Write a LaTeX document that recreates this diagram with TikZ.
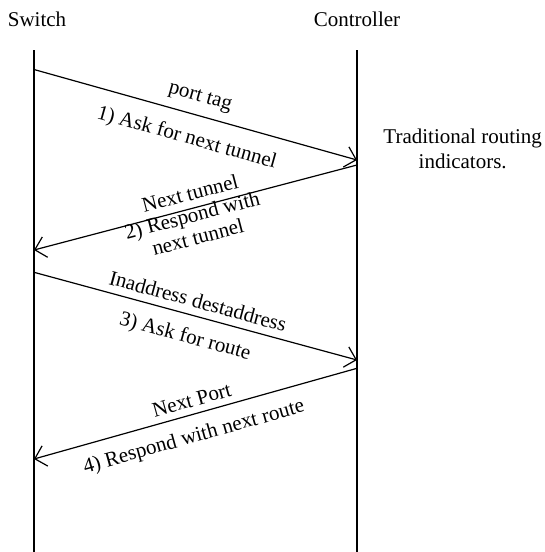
\documentclass[tikz,border=0pt]{standalone}
\usepackage{fontspec}
\setmainfont{Liberation Serif}
\usetikzlibrary{arrows.meta}
\begin{document}
\begin{tikzpicture}[x=1pt,y=-1pt,
  txt/.style={font=\fontsize{21}{25.4}\selectfont, inner sep=0pt, align=center},
  life/.style={line width=1.4pt},
  msg/.style={line width=1.2pt, -{Straight Barb[length=10.5pt,width=21pt]}}]
\useasboundingbox (0,0) rectangle (545,552);
% headers
\node[txt, anchor=base] (sw) at (37,26.5) {Switch};
\node[txt, anchor=base] (ct) at (357,26.5) {Controller};
\node[txt, anchor=north] (trad) at (462.7,128.3) {Traditional routing\\indicators.};
% lifelines
\coordinate (s0) at (34,50);
\coordinate (s9) at (34,552);
\coordinate (c0) at (357,50);
\coordinate (c9) at (357,552);
\draw[life] (s0) -- (s9);
\draw[life] (c0) -- (c9);
% message end points
\coordinate (s1) at (34,69.5);
\coordinate (c1) at (357,160);
\coordinate (c2) at (357,165);
\coordinate (s2) at (34,250);
\coordinate (s3) at (34,272.3);
\coordinate (c3) at (357,360);
\coordinate (c4) at (357,368.3);
\coordinate (s4) at (34,459);
\draw[msg] (s1) -- (c1);
\draw[msg] (c2) -- (s2);
\draw[msg] (s3) -- (c3);
\draw[msg] (c4) -- (s4);
% labels
\node[txt, rotate=-15.65] (l1a) at (200,98) {port tag};
\node[txt, rotate=-15.65] (l1b) at (186.7,138.3) {1) Ask for next tunnel};
\node[txt, rotate=14.74] (l2a) at (190,193.3) {Next tunnel};
\node[txt, rotate=14.74, font=\fontsize{21}{22.5}\selectfont] (l2b) at (195,226) {2) Respond with\\next tunnel};
\node[txt, rotate=-15.19] (l3a) at (198,301) {Inaddress destaddress};
\node[txt, rotate=-15.19] (l3b) at (185,337) {3) Ask for route};
\node[txt, rotate=15.68] (l4a) at (191.7,400) {Next Port};
\node[txt, rotate=15.68] (l4b) at (194,437.5) {4) Respond with next route};
\end{tikzpicture}
\end{document}
